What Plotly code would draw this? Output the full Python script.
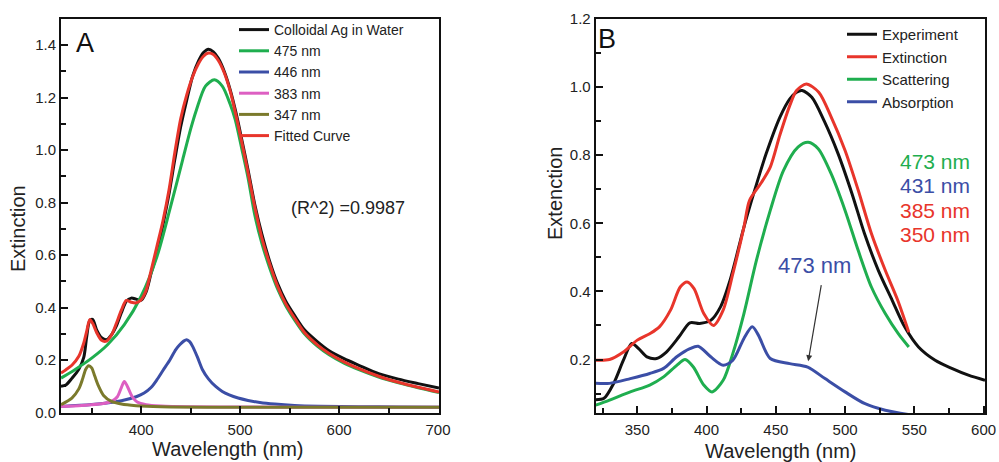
import plotly.graph_objects as go

# ---------------- Panel A data ----------------
a_exp_x = [319, 324, 330, 337, 342, 345, 348, 351, 355, 360, 365, 370, 375, 380, 385, 390, 395, 400, 405, 410,
           416, 422, 428, 434, 440, 446, 452, 458, 463, 468, 473, 478, 484, 490, 496, 502, 508, 515, 522, 530,
           538, 546, 555, 565, 578, 590, 605, 620, 640, 660, 680, 701]
a_exp_y = [0.100, 0.105, 0.130, 0.165, 0.210, 0.290, 0.350, 0.355, 0.315, 0.285, 0.277, 0.296, 0.330, 0.380,
           0.424, 0.436, 0.432, 0.428, 0.460, 0.530, 0.608, 0.715, 0.830, 0.964, 1.090, 1.190, 1.282, 1.340,
           1.372, 1.385, 1.375, 1.350, 1.300, 1.230, 1.140, 1.035, 0.925, 0.790, 0.680, 0.575, 0.490, 0.425,
           0.370, 0.315, 0.270, 0.235, 0.205, 0.180, 0.148, 0.127, 0.110, 0.093]

a_fit_x = a_exp_x
a_fit_y = [0.150, 0.163, 0.180, 0.214, 0.265, 0.310, 0.354, 0.340, 0.305, 0.275, 0.272, 0.295, 0.340, 0.390,
           0.427, 0.420, 0.418, 0.430, 0.465, 0.540, 0.634, 0.730, 0.845, 0.990, 1.120, 1.210, 1.280, 1.330,
           1.358, 1.370, 1.365, 1.342, 1.295, 1.225, 1.130, 1.025, 0.915, 0.780, 0.665, 0.565, 0.480, 0.415,
           0.360, 0.305, 0.258, 0.225, 0.193, 0.167, 0.138, 0.115, 0.096, 0.078]

a_475_x = [319, 333, 350, 366, 383, 400, 416, 429, 442, 450, 456, 465, 474, 482, 490, 495, 502, 508, 515, 522,
           530, 538, 546, 555, 565, 578, 590, 605, 620, 640, 660, 680, 701]
a_475_y = [0.131, 0.163, 0.207, 0.258, 0.335, 0.443, 0.595, 0.774, 0.964, 1.080, 1.155, 1.244, 1.268, 1.244,
           1.175, 1.117, 1.000, 0.895, 0.750, 0.645, 0.550, 0.470, 0.408, 0.353, 0.300, 0.253, 0.220, 0.188,
           0.163, 0.135, 0.113, 0.094, 0.076]

a_446_x = [319, 350, 380, 395, 403, 410, 416, 422, 429, 435, 439, 443, 446, 449, 452, 457, 462, 468, 475, 482,
           489, 498, 508, 520, 535, 555, 580, 620, 660, 701]
a_446_y = [0.023, 0.030, 0.045, 0.060, 0.074, 0.095, 0.125, 0.160, 0.200, 0.240, 0.258, 0.272, 0.277, 0.270,
           0.252, 0.210, 0.163, 0.128, 0.100, 0.080, 0.067, 0.055, 0.046, 0.038, 0.032, 0.027, 0.024, 0.022,
           0.021, 0.020]

a_383_x = [319, 340, 360, 370, 376, 380, 383, 386, 391, 396, 405, 420, 450, 500, 600, 701]
a_383_y = [0.023, 0.027, 0.033, 0.042, 0.060, 0.095, 0.118, 0.100, 0.060, 0.040, 0.030, 0.025, 0.022, 0.021,
           0.020, 0.020]

a_347_x = [319, 330, 337, 341, 344, 347, 350, 353, 357, 362, 370, 380, 395, 420, 500, 600, 701]
a_347_y = [0.030, 0.055, 0.090, 0.130, 0.165, 0.178, 0.170, 0.140, 0.100, 0.065, 0.042, 0.032, 0.026, 0.022,
           0.020, 0.020, 0.020]

# ---------------- Panel B data ----------------
b_exp_x = [320, 326, 333, 340, 346, 351, 357, 364, 371, 380, 388, 395, 403, 410, 417, 427, 434, 443, 453, 460,
           465, 469, 476, 485, 495, 505, 514, 524, 534, 543, 553, 565, 577, 589, 601]
b_exp_y = [0.082, 0.086, 0.130, 0.198, 0.247, 0.232, 0.208, 0.203, 0.222, 0.266, 0.308, 0.306, 0.315, 0.354,
           0.433, 0.589, 0.687, 0.804, 0.912, 0.965, 0.985, 0.990, 0.970, 0.900, 0.804, 0.687, 0.570, 0.462,
           0.374, 0.296, 0.237, 0.198, 0.174, 0.154, 0.139]

b_ext_x = [320, 330, 340, 350, 359, 366, 374, 381, 386, 391, 398, 405, 412, 419, 427, 431, 439, 446, 453, 460,
           465, 472, 481, 490, 500, 509.5, 519, 529, 538, 546]
b_ext_y = [0.198, 0.200, 0.222, 0.257, 0.276, 0.296, 0.345, 0.413, 0.428, 0.408, 0.335, 0.300, 0.345, 0.452,
           0.589, 0.667, 0.716, 0.765, 0.860, 0.945, 0.990, 1.009, 0.985, 0.912, 0.814, 0.697, 0.570, 0.462,
           0.374, 0.280]

b_sca_x = [320, 330, 345, 359, 369, 378.5, 384.5, 390.5, 398, 404, 412, 419, 427, 436, 446, 455.5, 466, 473.4,
           480.6, 490, 500, 509.5, 519, 529, 538.4, 546]
b_sca_y = [0.066, 0.081, 0.105, 0.125, 0.149, 0.183, 0.200, 0.178, 0.125, 0.105, 0.139, 0.218, 0.335, 0.491,
           0.638, 0.755, 0.824, 0.838, 0.819, 0.745, 0.638, 0.520, 0.413, 0.335, 0.276, 0.237]

b_abs_x = [320, 330, 345, 359, 369, 378.5, 388, 394, 403, 412, 419, 427, 433, 437.5, 446, 460, 473, 485.5, 500,
           514, 529, 548]
b_abs_y = [0.130, 0.130, 0.144, 0.159, 0.174, 0.208, 0.232, 0.239, 0.208, 0.183, 0.198, 0.262, 0.296, 0.271,
           0.203, 0.188, 0.178, 0.144, 0.105, 0.071, 0.051, 0.037]

# peak labels in panel B
b_peak_labels = ["473 nm", "431 nm", "385 nm", "350 nm"]

FONT = "Liberation Sans, Arial, Helvetica, sans-serif"
BLACK = "#111111"
GREEN = "#1fae4f"
BLUE = "#3b4ea6"
MAGENTA = "#dd5fc2"
OLIVE = "#7b7a2c"
RED = "#e8352b"
TXT = "#222222"

fig = go.Figure()

def add(x, y, name, color, xa, ya, legend):
    fig.add_trace(go.Scatter(x=x, y=y, name=name, mode="lines",
                             line=dict(color=color, width=3, shape="spline", smoothing=0.8),
                             xaxis=xa, yaxis=ya, legend=legend, hoverinfo="skip"))

add(a_exp_x, a_exp_y, "Colloidal Ag in Water", BLACK, "x", "y", "legend")
add(a_475_x, a_475_y, "475 nm", GREEN, "x", "y", "legend")
add(a_446_x, a_446_y, "446 nm", BLUE, "x", "y", "legend")
add(a_383_x, a_383_y, "383 nm", MAGENTA, "x", "y", "legend")
add(a_347_x, a_347_y, "347 nm", OLIVE, "x", "y", "legend")
add(a_fit_x, a_fit_y, "Fitted Curve", RED, "x", "y", "legend")

add(b_exp_x, b_exp_y, "Experiment", BLACK, "x2", "y2", "legend2")
add(b_ext_x, b_ext_y, "Extinction", RED, "x2", "y2", "legend2")
add(b_sca_x, b_sca_y, "Scattering", GREEN, "x2", "y2", "legend2")
add(b_abs_x, b_abs_y, "Absorption", BLUE, "x2", "y2", "legend2")

W, H = 999, 462
def px(xp):
    return xp / W
def py(yp):
    return (H - yp) / H

axis_common = dict(showline=True, linecolor="#111", linewidth=2, mirror=True,
                   ticks="inside", ticklen=7, tickwidth=1.5, tickcolor="#111",
                   showgrid=False, zeroline=False, automargin=False,
                   tickfont=dict(family=FONT, size=15, color=TXT))

fig.update_layout(
    width=W, height=H, autosize=False,
    margin=dict(l=0, r=0, t=0, b=0, pad=0, autoexpand=False),
    paper_bgcolor="white", plot_bgcolor="white",
    showlegend=True,
    xaxis=dict(domain=[px(61), px(439)], range=[319, 701], dtick=100, tick0=0, ticklabelstandoff=2,
               minor=dict(ticks="inside", ticklen=5, dtick=50, tick0=0, tickcolor="#111"),
               anchor="y", **axis_common),
    yaxis=dict(domain=[py(413), py(19)], range=[-0.002, 1.5], dtick=0.2, tick0=0, tickformat=".1f",
               minor=dict(ticks="inside", ticklen=5, dtick=0.1, tick0=0, tickcolor="#111"),
               anchor="x", **axis_common),
    xaxis2=dict(domain=[px(595.7), px(985)], range=[320, 601], dtick=50, tick0=0, ticklabelstandoff=2,
                minor=dict(ticks="inside", ticklen=5, dtick=25, tick0=0, tickcolor="#111"),
                anchor="y2", **axis_common),
    yaxis2=dict(domain=[py(413), py(19)], range=[0.043, 1.2], dtick=0.2, tick0=0, tickformat=".1f",
                minor=dict(ticks="inside", ticklen=5, dtick=0.1, tick0=0, tickcolor="#111"),
                anchor="x2", **axis_common),
    legend=dict(x=px(234), y=py(14), xanchor="left", yanchor="top", bgcolor="rgba(0,0,0,0)",
                font=dict(family=FONT, size=14, color=TXT), tracegroupgap=0, itemwidth=30),
    legend2=dict(x=px(842), y=py(18), xanchor="left", yanchor="top", bgcolor="rgba(0,0,0,0)",
                 font=dict(family=FONT, size=15, color=TXT), tracegroupgap=0, itemwidth=30),
)

ann = []
# axis titles
ann.append(dict(text="Wavelength (nm)", x=px(227.5), y=py(449), xref="paper", yref="paper",
                xanchor="center", yanchor="middle",
                showarrow=False, font=dict(family=FONT, size=20, color=TXT)))
ann.append(dict(text="Wavelength (nm)", x=px(781), y=py(451), xref="paper", yref="paper",
                xanchor="center", yanchor="middle",
                showarrow=False, font=dict(family=FONT, size=20, color=TXT)))
ann.append(dict(text="Extinction", x=px(18), y=py(229), xref="paper", yref="paper", textangle=-90,
                xanchor="center", yanchor="middle",
                showarrow=False, font=dict(family=FONT, size=20, color=TXT)))
ann.append(dict(text="Extenction", x=px(555), y=py(194), xref="paper", yref="paper", textangle=-90,
                xanchor="center", yanchor="middle",
                showarrow=False, font=dict(family=FONT, size=20, color=TXT)))
# panel letters
ann.append(dict(text="A", x=332, y=1.41, xref="x", yref="y", xanchor="left", yanchor="middle",
                showarrow=False, font=dict(family=FONT, size=27, color="#111")))
ann.append(dict(text="B", x=320.0, y=1.142, xref="x2", yref="y2", xanchor="left", yanchor="middle",
                showarrow=False, font=dict(family=FONT, size=27, color="#111")))
# R^2
ann.append(dict(text="(R^2) =0.9987", x=608.6, y=0.779, xref="x", yref="y", showarrow=False,
                xanchor="center", yanchor="middle",
                font=dict(family=FONT, size=18, color=TXT)))
# panel B peak list
peak_cols = [GREEN, BLUE, RED, RED]
peak_y = [0.781, 0.710, 0.637, 0.567]
for lab, c, yy in zip(b_peak_labels, peak_cols, peak_y):
    ann.append(dict(text=lab, x=591, y=yy, xref="x2", yref="y2", xanchor="right", yanchor="middle",
                    showarrow=False, borderpad=0, font=dict(family=FONT, size=21, color=c)))
# blue 473 nm label and arrow
ann.append(dict(text="473 nm", x=478.2, y=0.475, xref="x2", yref="y2", showarrow=False,
                xanchor="center", yanchor="middle",
                font=dict(family=FONT, size=22, color=BLUE)))
ann.append(dict(text="", x=473.4, y=0.195, xref="x2", yref="y2", ax=483, ay=0.423, axref="x2", ayref="y2",
                showarrow=True, arrowhead=2, arrowsize=1, arrowwidth=1.2, arrowcolor="#333"))
fig.update_layout(annotations=ann)

fig.write_html("out.html", config={"displayModeBar": False},
               post_script="document.body.style.margin='0';document.body.style.overflow='hidden';")
